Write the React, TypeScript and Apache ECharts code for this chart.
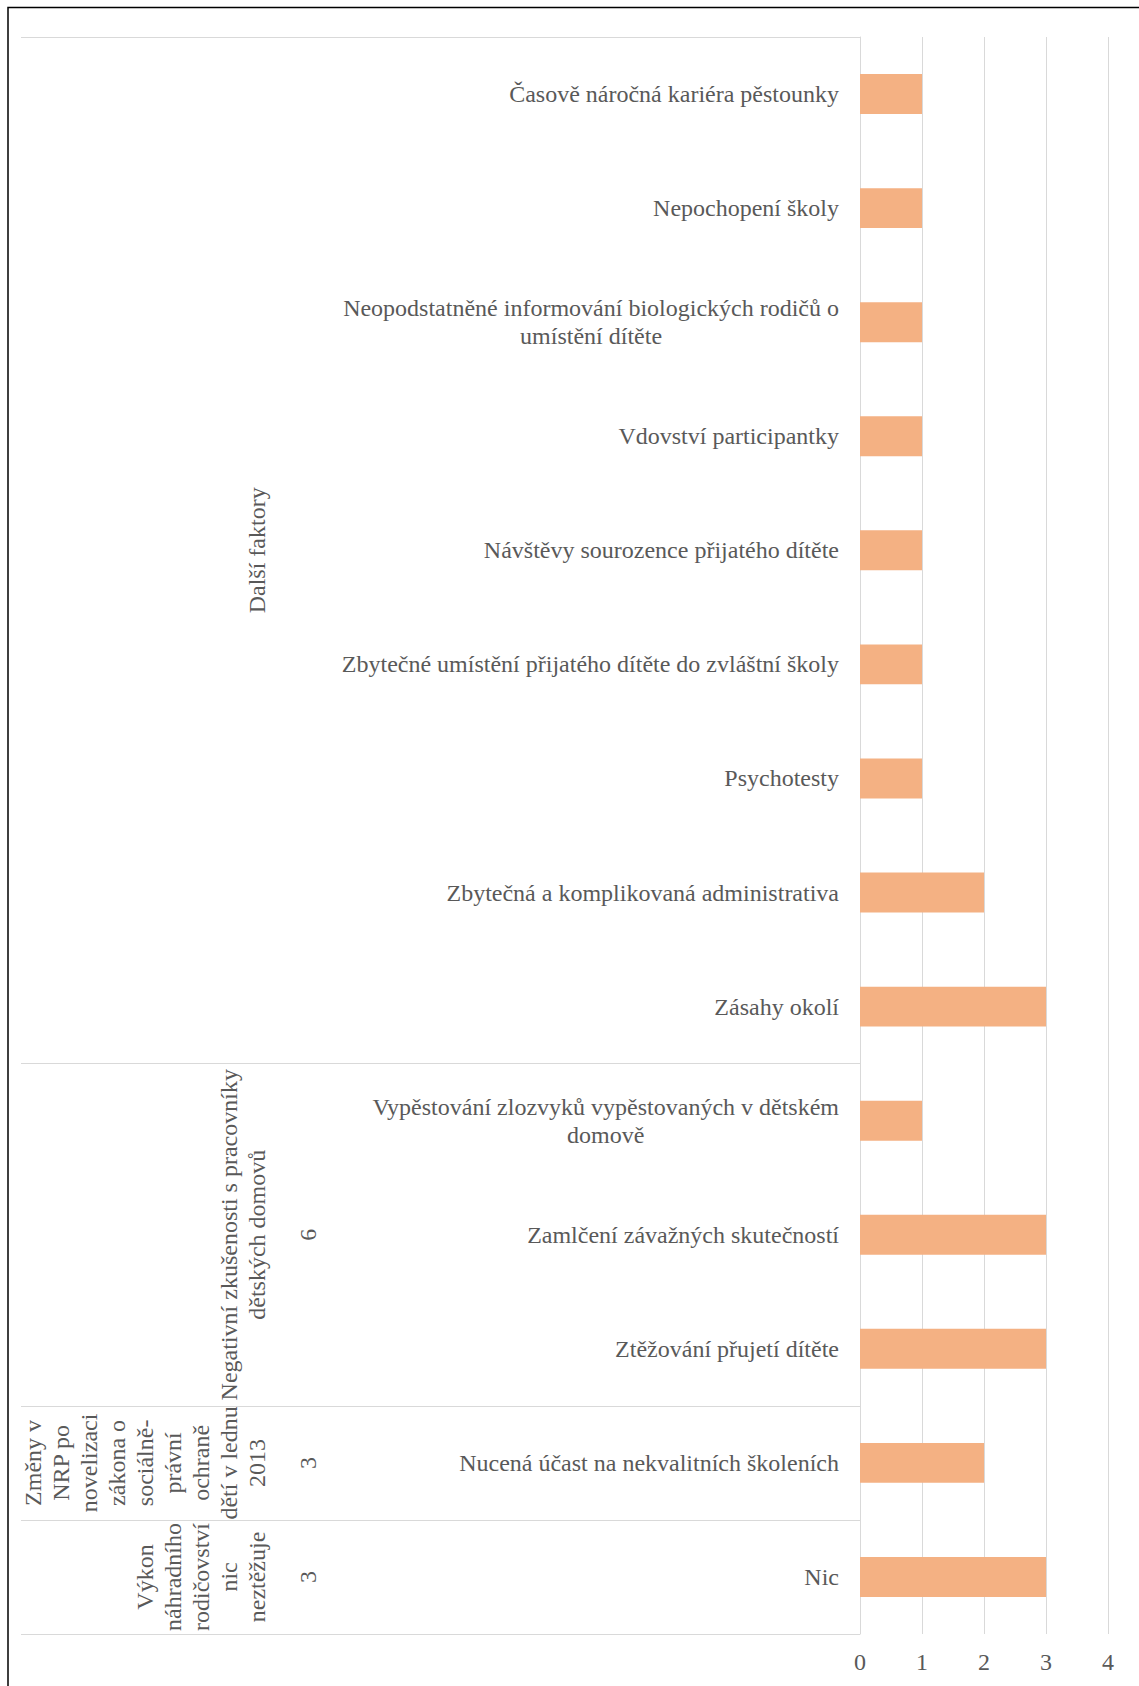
import React, { useEffect, useRef } from "react";
import * as echarts from "echarts";

const categories: string[] = [
  "Časově náročná kariéra pěstounky",
  "Nepochopení školy",
  "Neopodstatněné informování biologických rodičů o\numístění dítěte",
  "Vdovství participantky",
  "Návštěvy sourozence přijatého dítěte",
  "Zbytečné umístění přijatého dítěte do zvláštní školy",
  "Psychotesty",
  "Zbytečná a komplikovaná administrativa",
  "Zásahy okolí",
  "Vypěstování zlozvyků vypěstovaných v dětském\ndomově",
  "Zamlčení závažných skutečností",
  "Ztěžování přujetí dítěte",
  "Nucená účast na nekvalitních školeních",
  "Nic",
];
const values: number[] = [1, 1, 1, 1, 1, 1, 1, 2, 3, 1, 3, 3, 2, 3];

const groupNames: string[] = [
  "Další faktory",
  "Negativní zkušenosti s pracovníky\ndětských domovů",
  "Změny v\nNRP po\nnovelizaci\nzákona o\nsociálně-\nprávní\nochraně\ndětí v lednu\n2013",
  "Výkon\nnáhradního\nrodičovství\nnic\nneztěžuje",
];
const groupCounts: string[] = ["", "6", "3", "3"];
const groupSizes: number[] = [9, 3, 1, 1];

const xMin = 0;
const xMax = 4;
const xInterval = 1;

const FONT = "'Liberation Serif', 'Times New Roman', serif";
const FS = 24;
const TEXT = "#595959";
const GRID = "#D9D9D9";
const BAR = "#F4B183";

export default function App() {
  const ref = useRef<HTMLDivElement>(null);
  useEffect(() => {
    if (!ref.current) return;
    const chart = echarts.init(ref.current, null, { renderer: "svg" });
    const groupStarts: number[] = [];
    let acc = 0;
    groupSizes.forEach((s) => {
      groupStarts.push(acc);
      acc += s;
    });

    chart.setOption({
      animation: false,
      backgroundColor: "#ffffff",
      grid: { left: 860, right: 31, top: 37, bottom: 52, containLabel: false },
      xAxis: {
        type: "value",
        min: xMin,
        max: xMax,
        interval: xInterval,
        axisLine: { show: false },
        axisTick: { show: false },
        splitLine: { show: true, lineStyle: { color: GRID, width: 1 } },
        axisLabel: { color: TEXT, fontSize: FS, fontFamily: FONT, margin: 16 },
      },
      yAxis: {
        type: "category",
        data: categories,
        inverse: true,
        axisLine: { show: true, lineStyle: { color: GRID, width: 1 } },
        axisTick: {
          show: true,
          length: 839,
          interval: (i: number) => groupStarts.includes(i),
          lineStyle: { color: GRID, width: 1 },
        },
        splitLine: { show: false },
        axisLabel: {
          interval: 0,
          margin: 21,
          color: TEXT,
          fontSize: FS,
          fontFamily: FONT,
          lineHeight: 28,
          formatter: (v: string) =>
            v
              .split("\n")
              .map((l) => `{c|${l}}`)
              .join("\n"),
          rich: {
            c: { align: "center", color: TEXT, fontSize: FS, fontFamily: FONT, lineHeight: 28 },
          },
        },
      },
      series: [
        {
          type: "bar",
          data: values,
          barWidth: "35%",
          itemStyle: { color: BAR },
        },
      ],
    });

    const graphics: any[] = [];
    groupNames.forEach((name, gi) => {
      const first = groupStarts[gi];
      const last = first + groupSizes[gi] - 1;
      const y1 = chart.convertToPixel({ yAxisIndex: 0 }, first) as number;
      const y2 = chart.convertToPixel({ yAxisIndex: 0 }, last) as number;
      const cy = (y1 + y2) / 2;
      const n = name.split("\n").length;
      graphics.push({
        type: "text",
        x: 257 - (n - 1) * 14,
        y: cy,
        rotation: Math.PI / 2,
        style: {
          text: name,
          fontSize: FS,
          fontFamily: FONT,
          fill: TEXT,
          align: "center",
          verticalAlign: "middle",
          lineHeight: 28,
        },
      });
      if (groupCounts[gi]) {
        graphics.push({
          type: "text",
          x: 308,
          y: cy,
          rotation: Math.PI / 2,
          style: {
            text: groupCounts[gi],
            fontSize: FS,
            fontFamily: FONT,
            fill: TEXT,
            align: "center",
            verticalAlign: "middle",
          },
        });
      }
    });
    graphics.push({
      type: "rect",
      shape: { x: 8, y: 7.5, width: 1200, height: 1720 },
      style: { fill: "none", stroke: "#000000", lineWidth: 1.5 },
      silent: true,
    });
    chart.setOption({ graphic: graphics });

    return () => chart.dispose();
  }, []);
  return (
    <div
      ref={ref}
      style={{ position: "absolute", left: 0, top: 0, width: 1139, height: 1686 }}
    />
  );
}
